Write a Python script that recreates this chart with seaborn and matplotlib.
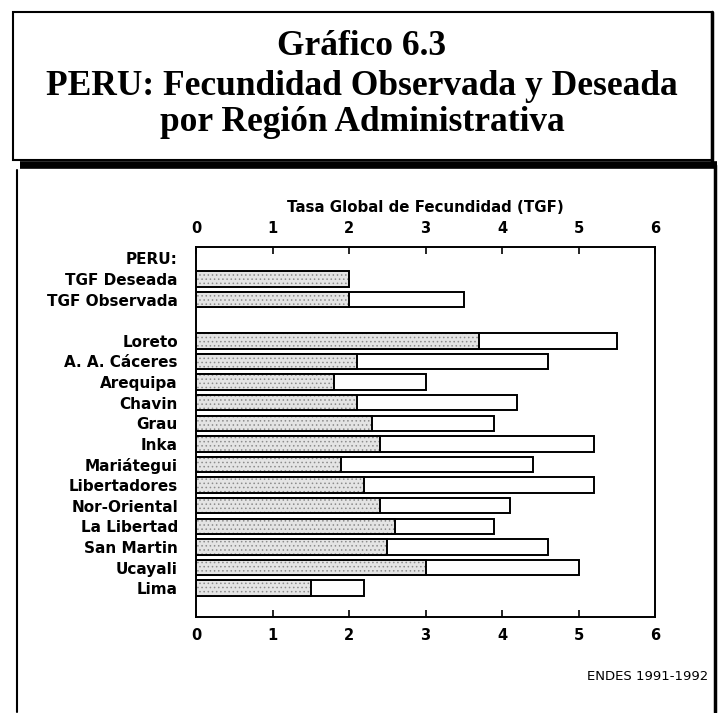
import numpy as np
import pandas as pd
import seaborn as sns
import matplotlib.pyplot as plt
from matplotlib.patches import Rectangle
from matplotlib.lines import Line2D

# data (TGF values)
regiones = ["PERU:", "TGF Deseada", "TGF Observada", " ", "Loreto", "A. A. Cáceres",
            "Arequipa", "Chavin", "Grau", "Inka", "Mariátegui", "Libertadores",
            "Nor-Oriental", "La Libertad", "San Martin", "Ucayali", "Lima"]
tgf_deseada = [np.nan, 2.0, 2.0, np.nan, 3.7, 2.1, 1.8, 2.1, 2.3, 2.4, 1.9, 2.2,
               2.4, 2.6, 2.5, 3.0, 1.5]
tgf_observada = [np.nan, np.nan, 3.5, np.nan, 5.5, 4.6, 3.0, 4.2, 3.9, 5.2, 4.4, 5.2,
                 4.1, 3.9, 4.6, 5.0, 2.2]
xticks = [0, 1, 2, 3, 4, 5, 6]

df = pd.DataFrame({"region": regiones, "deseada": tgf_deseada, "observada": tgf_observada})

sns.set_style("white")
plt.rcParams["font.family"] = ["DejaVu Sans"]
plt.rcParams["text.color"] = "black"
plt.rcParams["xtick.color"] = "black"
plt.rcParams["ytick.color"] = "black"
plt.rcParams["hatch.linewidth"] = 0.6

fig = plt.figure(figsize=(7.19, 7.13), dpi=100)
W, H = 719, 713
ax = fig.add_axes([196 / W, 1 - 617 / H, (655 - 196) / W, (617 - 247) / H])

# observed (white) bar, then desired (stippled) bar over it
sns.barplot(data=df, x="observada", y="region", order=regiones, orient="h", ax=ax,
            color="white", saturation=1, edgecolor="black", linewidth=1.4,
            width=0.75, errorbar=None)
sns.barplot(data=df, x="deseada", y="region", order=regiones, orient="h", ax=ax,
            color="#e4e4e4", saturation=1, edgecolor="#8c8c8c", linewidth=0.01,
            hatch="....", width=0.75, errorbar=None)
sns.barplot(data=df, x="deseada", y="region", order=regiones, orient="h", ax=ax,
            fill=False, edgecolor="black", linewidth=1.4, width=0.75, errorbar=None)

ax.set_xlim(0, 6)
ax.set_ylim(17.4, -0.55)
ax.set_xticks(xticks)
ax.set_xticklabels([str(t) for t in xticks], fontweight="bold", fontsize=10.5)
ax.set_yticks(range(len(regiones)))
ax.set_yticklabels(regiones, fontweight="bold", fontsize=11)
ax.set_xlabel("")
ax.set_ylabel("")
ax.tick_params(axis="x", top=True, labeltop=True, bottom=True, labelbottom=True,
               direction="in", length=5, width=1.2, pad=8)
ax.tick_params(axis="y", length=0, pad=13)
for s in ax.spines.values():
    s.set_color("black")
    s.set_linewidth(1.4)

fig.text(425.5 / W, 1 - 208 / H, "Tasa Global de Fecundidad (TGF)",
         ha="center", va="center", fontsize=10.8, fontweight="bold")
fig.text(708 / W, 1 - 677 / H, "ENDES 1991-1992", ha="right", va="center", fontsize=9.5)

# title box
fig.patches.append(Rectangle((13 / W, 1 - 160 / H), (712 - 13) / W, (160 - 12) / H,
                             transform=fig.transFigure, fill=False, edgecolor="black",
                             linewidth=1.5))
fig.lines.append(Line2D([712 / W, 712 / W], [1 - 12 / H, 1 - 165 / H],
                        transform=fig.transFigure, color="black", linewidth=2.5))
fig.lines.append(Line2D([20 / W, 717 / W], [1 - 165 / H, 1 - 165 / H],
                        transform=fig.transFigure, color="black", linewidth=5.5,
                        solid_capstyle="butt"))
# lower frame
fig.lines.append(Line2D([17 / W, 17 / W], [1 - 170 / H, 1 - 712 / H],
                        transform=fig.transFigure, color="black", linewidth=1.5))
fig.lines.append(Line2D([715 / W, 715 / W], [1 - 165 / H, 1 - 712 / H],
                        transform=fig.transFigure, color="black", linewidth=2.5))

title_font = dict(family="Liberation Serif", fontweight="bold", fontsize=25.5,
                  ha="center", va="baseline")
fig.text(362 / W, 1 - 55 / H, "Gráfico 6.3", **title_font)
fig.text(362 / W, 1 - 95 / H, "PERU: Fecundidad Observada y Deseada", **title_font)
fig.text(362 / W, 1 - 131 / H, "por Región Administrativa", **title_font)

fig.savefig("out.png", dpi=100)
